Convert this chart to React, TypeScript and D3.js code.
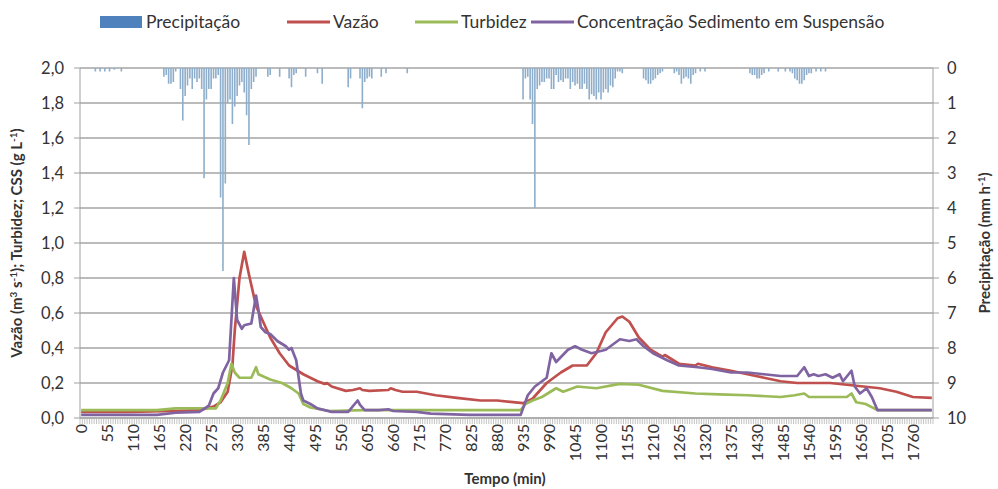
import React from 'react';
import * as d3 from 'd3';

// tempo (min) -> valor
const vazao: [number, number][] = [
  [0, 0.035], [100, 0.035], [200, 0.04], [250, 0.045], [265, 0.055], [280, 0.065], [295, 0.09],
  [310, 0.15], [320, 0.3], [325, 0.5], [335, 0.8], [345, 0.95], [355, 0.82], [370, 0.64],
  [385, 0.55], [400, 0.46], [420, 0.37], [440, 0.3], [470, 0.25], [500, 0.21], [515, 0.195],
  [520, 0.2], [530, 0.18], [560, 0.155], [575, 0.16], [590, 0.17], [595, 0.16], [610, 0.155],
  [650, 0.16], [655, 0.17], [665, 0.16], [680, 0.15], [710, 0.15], [730, 0.14], [750, 0.13],
  [795, 0.115], [845, 0.1], [880, 0.1], [935, 0.085], [955, 0.11], [985, 0.2], [1015, 0.26],
  [1040, 0.3], [1070, 0.3], [1090, 0.37], [1110, 0.49], [1135, 0.57], [1145, 0.58], [1160, 0.55],
  [1180, 0.46], [1205, 0.39], [1230, 0.35], [1235, 0.36], [1265, 0.31], [1300, 0.3], [1305, 0.31],
  [1335, 0.29], [1375, 0.27], [1410, 0.25], [1445, 0.23], [1480, 0.21], [1515, 0.2], [1585, 0.2],
  [1620, 0.19], [1655, 0.18], [1690, 0.17], [1725, 0.15], [1760, 0.12], [1800, 0.115],
];

const turbidez: [number, number][] = [
  [0, 0.045], [160, 0.045], [200, 0.055], [285, 0.055], [295, 0.1], [310, 0.2], [318, 0.31],
  [325, 0.26], [335, 0.23], [360, 0.23], [365, 0.26], [370, 0.29], [375, 0.25], [400, 0.22],
  [425, 0.2], [445, 0.17], [460, 0.14], [470, 0.08], [485, 0.06], [525, 0.04], [600, 0.045],
  [930, 0.045], [940, 0.08], [955, 0.1], [975, 0.12], [1005, 0.17], [1020, 0.15], [1050, 0.18],
  [1090, 0.17], [1140, 0.195], [1180, 0.19], [1230, 0.155], [1300, 0.14], [1350, 0.135],
  [1410, 0.13], [1480, 0.12], [1510, 0.13], [1530, 0.14], [1540, 0.12], [1585, 0.12],
  [1620, 0.12], [1630, 0.14], [1640, 0.09], [1660, 0.08], [1685, 0.045], [1800, 0.045],
];

const css: [number, number][] = [
  [0, 0.018], [160, 0.018], [200, 0.03], [250, 0.035], [270, 0.07], [280, 0.14], [290, 0.17],
  [300, 0.26], [313, 0.33], [323, 0.8], [330, 0.56], [340, 0.51], [345, 0.53], [360, 0.54],
  [370, 0.7], [375, 0.62], [380, 0.52], [390, 0.49], [400, 0.48], [415, 0.44], [433, 0.41],
  [440, 0.39], [445, 0.4], [455, 0.33], [465, 0.14], [470, 0.1], [485, 0.08], [500, 0.055],
  [530, 0.035], [565, 0.035], [585, 0.1], [590, 0.075], [600, 0.045], [630, 0.045], [650, 0.05],
  [660, 0.04], [710, 0.035], [740, 0.025], [820, 0.018], [930, 0.018], [945, 0.13], [960, 0.18],
  [975, 0.21], [985, 0.23], [995, 0.37], [1005, 0.32], [1030, 0.39], [1045, 0.41], [1060, 0.39],
  [1080, 0.37], [1110, 0.39], [1140, 0.45], [1160, 0.44], [1175, 0.45], [1190, 0.41], [1210, 0.37],
  [1240, 0.33], [1265, 0.3], [1305, 0.29], [1335, 0.28], [1375, 0.26], [1410, 0.26], [1445, 0.25],
  [1480, 0.24], [1515, 0.24], [1530, 0.29], [1540, 0.24], [1550, 0.25], [1560, 0.24], [1575, 0.25],
  [1590, 0.23], [1605, 0.25], [1612, 0.21], [1630, 0.27], [1637, 0.18], [1648, 0.14], [1662, 0.17],
  [1673, 0.12], [1685, 0.045], [1800, 0.045],
];

// precipitação (mm h-1), só os intervalos com chuva
const precipitacao: [number, number][] = [
  [30, 0.1], [40, 0.1], [50, 0.1], [60, 0.1], [70, 0.05], [85, 0.1],
  [175, 0.25], [180, 0.2], [185, 0.45], [190, 0.45], [195, 0.4], [200, 0.1],
  [210, 0.6], [215, 1.5], [220, 0.8], [225, 0.5], [230, 0.3], [235, 0.6], [240, 0.3], [245, 0.4],
  [250, 0.3], [255, 0.6], [260, 3.15], [265, 0.9], [270, 0.6], [275, 0.6], [280, 0.3], [285, 0.3],
  [290, 0.2], [295, 3.7], [300, 5.8], [305, 3.3], [310, 1.0], [315, 0.9], [320, 1.6], [325, 1.1],
  [330, 0.8], [335, 0.5], [340, 0.4], [345, 0.7], [350, 1.35], [355, 2.2], [360, 0.6], [365, 0.4],
  [370, 0.25], [395, 0.25], [400, 0.2], [420, 0.25], [440, 0.3], [445, 0.55], [450, 0.2],
  [455, 0.15], [475, 0.25], [500, 0.15], [510, 0.45], [565, 0.55], [570, 0.3], [590, 0.3],
  [595, 1.15], [600, 0.4], [605, 0.3], [610, 0.25], [615, 0.3], [635, 0.25], [645, 0.15], [690, 0.15],
  [935, 0.9], [940, 0.3], [945, 0.25], [950, 0.9], [955, 1.6], [960, 4.0], [965, 0.6], [970, 0.5],
  [975, 0.4], [980, 0.4], [985, 0.3], [990, 0.3], [995, 0.6], [1000, 0.6], [1005, 0.2], [1010, 0.4],
  [1015, 0.35], [1020, 0.4], [1025, 0.3], [1030, 0.3], [1035, 0.6], [1040, 0.4], [1045, 0.5],
  [1050, 0.45], [1055, 0.6], [1060, 0.6], [1065, 0.45], [1070, 0.6], [1075, 0.9], [1080, 0.75],
  [1085, 0.8], [1090, 0.9], [1095, 0.7], [1100, 0.9], [1105, 0.7], [1110, 0.6], [1115, 0.7],
  [1120, 0.5], [1125, 0.55], [1130, 0.3], [1135, 0.1], [1140, 0.1], [1145, 0.15],
  [1190, 0.3], [1195, 0.35], [1200, 0.45], [1205, 0.45], [1210, 0.35], [1215, 0.3], [1220, 0.2],
  [1225, 0.15], [1230, 0.1], [1255, 0.15], [1260, 0.1], [1265, 0.2], [1270, 0.45], [1275, 0.3],
  [1280, 0.25], [1285, 0.3], [1290, 0.45], [1295, 0.2], [1300, 0.15], [1310, 0.1], [1320, 0.1],
  [1415, 0.15], [1420, 0.2], [1425, 0.2], [1430, 0.3], [1435, 0.3], [1440, 0.2], [1445, 0.15],
  [1455, 0.1], [1475, 0.1], [1490, 0.1], [1500, 0.1], [1505, 0.15], [1510, 0.3], [1515, 0.35],
  [1520, 0.45], [1525, 0.45], [1530, 0.35], [1535, 0.2], [1540, 0.15], [1545, 0.15], [1555, 0.1],
  [1565, 0.1], [1575, 0.1],
];

const xLabels = [0, 55, 110, 165, 220, 275, 330, 385, 440, 495, 550, 605, 660, 715, 770, 825, 880,
  935, 990, 1045, 1100, 1155, 1210, 1265, 1320, 1375, 1430, 1485, 1540, 1595, 1650, 1705, 1760];
const leftTicks = [0, 0.2, 0.4, 0.6, 0.8, 1.0, 1.2, 1.4, 1.6, 1.8, 2.0];
const rightTicks = [0, 1, 2, 3, 4, 5, 6, 7, 8, 9, 10];

const W = 998, H = 489;
const left = 80, right = 933, top = 68, bottom = 418;
const step = 5;
const font = 'Lato, "Open Sans", sans-serif';

export default function App() {
  const x = d3.scaleLinear().domain([-step / 2, 1800 + step / 2]).range([left, right]);
  const y = d3.scaleLinear().domain([0, 2]).range([bottom, top]);
  const yP = d3.scaleLinear().domain([0, 10]).range([top, bottom]);
  const line = d3.line<[number, number]>().x(d => x(d[0])).y(d => y(d[1]));
  const boundaries = d3.range(-step / 2, 1800 + step, step);
  const fmt = (v: number) => v.toFixed(1).replace('.', ',');

  const series = [
    { name: 'Vazão', data: vazao, color: '#C0504D' },
    { name: 'Turbidez', data: turbidez, color: '#9BBB59' },
    { name: 'Concentração Sedimento em Suspensão', data: css, color: '#8064A2' },
  ];

  return (
    <svg width={W} height={H} style={{ position: 'absolute', left: 0, top: 0, background: '#fff' }}
      fontFamily={font}>
      {/* grade */}
      {leftTicks.map(t => (
        <line key={'g' + t} x1={left} x2={right} y1={y(t)} y2={y(t)} stroke="#a4a4a4" strokeWidth={1.3} />
      ))}

      {/* chuva */}
      {precipitacao.map(([t, p]) => (
        <rect key={'p' + t} x={x(t) - 0.8} y={top} width={1.6} height={yP(p) - top} fill="#8eaecb" />
      ))}

      {/* séries */}
      {series.map(s => (
        <path key={s.name} d={line(s.data) || ''} fill="none" stroke={s.color} strokeWidth={2.7}
          strokeLinejoin="round" />
      ))}

      {/* eixos */}
      <line x1={left} x2={left} y1={top} y2={bottom} stroke="#a0a0a0" />
      <line x1={right} x2={right} y1={top} y2={bottom} stroke="#a0a0a0" />
      <line x1={left} x2={right} y1={bottom} y2={bottom} stroke="#a0a0a0" />
      {boundaries.map(b => (
        <line key={'m' + b} x1={x(b)} x2={x(b)} y1={bottom} y2={bottom + 6} stroke="#b4b4b4" strokeWidth={0.8} />
      ))}
      {leftTicks.map(t => (
        <g key={'l' + t}>
          <line x1={left - 6} x2={left} y1={y(t)} y2={y(t)} stroke="#a0a0a0" />
          <text x={left - 16} y={y(t)} dy="0.35em" textAnchor="end" fontSize={16.5} fill="#333">{fmt(t)}</text>
        </g>
      ))}
      {rightTicks.map(t => (
        <g key={'r' + t}>
          <line x1={right} x2={right + 6} y1={yP(t)} y2={yP(t)} stroke="#a0a0a0" />
          <text x={right + 14} y={yP(t)} dy="0.35em" fontSize={16.5} fill="#333">{t}</text>
        </g>
      ))}
      {xLabels.map(t => (
        <text key={'x' + t} transform={`translate(${x(t)},${bottom + 6}) rotate(-90)`} dy="0.35em"
          textAnchor="end" fontSize={16} fill="#333">{t}</text>
      ))}

      {/* títulos */}
      <text x={505} y={484} textAnchor="middle" fontSize={15} fontWeight="bold" fill="#333">Tempo (min)</text>
      <text transform={`translate(22,${(top + bottom) / 2}) rotate(-90)`} textAnchor="middle" fontSize={15}
        fontWeight="bold" fill="#333">
        Vazão (m<tspan dy="-5" fontSize={10}>3</tspan><tspan dy="5"> s</tspan>
        <tspan dy="-5" fontSize={10}>-1</tspan><tspan dy="5">); Turbidez; CSS (g L</tspan>
        <tspan dy="-5" fontSize={10}>-1</tspan><tspan dy="5">)</tspan>
      </text>
      <text transform={`translate(990,${(top + bottom) / 2}) rotate(-90)`} textAnchor="middle" fontSize={15}
        fontWeight="bold" fill="#333">
        Precipitação (mm h<tspan dy="-5" fontSize={10}>-1</tspan><tspan dy="5">)</tspan>
      </text>

      {/* legenda */}
      <rect x={100} y={16} width={42} height={12} fill="#4F81BD" />
      <text x={146} y={28} fontSize={17.5} fill="#333">Precipitação</text>
      {series.map((s, i) => {
        const lx = [287, 415, 531][i];
        return (
          <g key={'lg' + s.name}>
            <line x1={lx} x2={lx + 43} y1={22} y2={22} stroke={s.color} strokeWidth={3} />
            <text x={lx + 46} y={28} fontSize={17.5} fill="#333">{s.name}</text>
          </g>
        );
      })}
    </svg>
  );
}
